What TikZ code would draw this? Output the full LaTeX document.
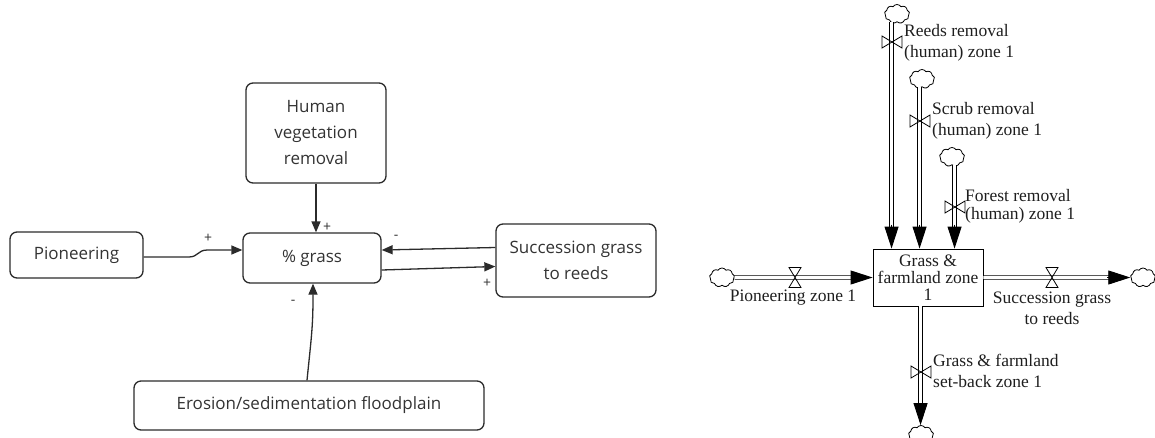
\documentclass[tikz,border=0pt]{standalone}
\usepackage{fontspec}
\setmainfont{Liberation Serif}
\newfontfamily\loopfont{Open Sans}
\usetikzlibrary{positioning,calc,arrows.meta,shapes.symbols}
\definecolor{loopline}{HTML}{2b2b2b}
\definecolor{looptext}{HTML}{333333}
\definecolor{flowtext}{HTML}{1e1e1e}
\tikzset{
  loopbox/.style={draw=loopline, line width=1.3pt, rounded corners=7pt, align=center, inner sep=0pt, text=looptext, font=\loopfont\fontsize{17}{26}\selectfont},
  link/.style={draw=loopline, line width=1.3pt, -{Triangle[length=11pt,width=9pt]}},
  polarity/.style={text=looptext, font=\loopfont\fontsize{14}{14}\selectfont, inner sep=0pt},
  stockbox/.style={draw, line width=0.9pt, minimum width=110pt, minimum height=57pt, inner sep=0pt, align=center, text=flowtext, font=\fontsize{17.5}{17}\selectfont},
  pipe/.style={double, line width=0.9pt, double distance=2.6pt},
  flowhead/.style={line width=0.9pt, -{Triangle[length=22pt,width=14pt]}},
  sink/.style={cloud, draw, cloud puffs=9, cloud puff arc=115, aspect=1.3, minimum width=25pt, minimum height=19pt, inner sep=0pt, line width=0.8pt},
  flowlabel/.style={align=left, inner sep=0pt, text=flowtext, font=\fontsize{17.5}{21}\selectfont},
  hvalve/.pic={\draw[line width=0.8pt] (-6,-10) -- (6,-10) -- (-6,10) -- (6,10) -- cycle;},
  vvalve/.pic={\draw[line width=0.8pt] (-10,-6) -- (-10,6) -- (10,-6) -- (10,6) -- cycle;}
}

\begin{document}
\begin{tikzpicture}[x=1pt,y=-1pt]
	\useasboundingbox (0,0) rectangle (1155,437);
	%% causal loop side: the variables as rounded boxes
	\node[loopbox, minimum width=133pt, minimum height=46pt] (pion) at (76.5,255) {Pioneering};
	\node[loopbox, minimum width=138pt, minimum height=50pt] (grass) at (312,258) {\% grass};
	\node[loopbox, minimum width=140pt, minimum height=100pt] (human) at (316,133) {Human\\vegetation\\removal};
	\node[loopbox, minimum width=160pt, minimum height=73pt] (succ) at (576,260.5) {Succession grass\\to reeds};
	\node[loopbox, minimum width=350pt, minimum height=49pt] (eros) at (309,405.5) {Erosion/sedimentation floodplain};
	%% the links, with a little kink on the pioneering one
	\draw[link] ($(pion.east)+(0,2)$) -- ++(45,0) .. controls +(10,0) and +(-10,0) .. ($(grass.west)+(-35,-8)$) -- ($(grass.west)+(0,-8)$);
	\draw[link] (human.south) -- (human.south |- grass.north);
	\draw[link] ($(succ.west)+(0,-13)$) -- ($(grass.east)+(0,-8)$);
	\draw[link] ($(grass.east)+(0,12)$) -- ($(succ.west)+(0,6)$);
	\draw[link] ($(eros.north)+(-2,0)$) .. controls +(4,-40) and +(0,30) .. ($(grass.south)+(1,14)$) -- ($(grass.south)+(1,0)$);
	%% signs of the links
	\node[polarity] (p1) at (208,238) {+};
	\node[polarity] (p2) at (327,227) {+};
	\node[polarity] (p3) at (396,237) {-};
	\node[polarity] (p4) at (487,283) {+};
	\node[polarity] (p5) at (293,302) {-};

	%% stock and flow side: the stock with its clouds
	\node[stockbox] (stock) at (928,277.5) {Grass \&\\farmland zone\\1};
	\node[sink] (cpion) at (722,277.5) {};
	\node[sink] (csucc) at (1143,277.5) {};
	\node[sink] (creeds) at (897,14) {};
	\node[sink] (cscrub) at (922,79) {};
	\node[sink] (cforest) at (952,157) {};
	\node[sink] (cback) at (921,435) {};
	\coordinate (inreeds) at ($(stock.north west)+(19,0)$);
	\coordinate (inscrub) at ($(stock.north west)+(47,0)$);
	\coordinate (inforest) at ($(stock.north west)+(82,0)$);
	\coordinate (outback) at ($(stock.south west)+(48,0)$);
	%% pipes, the arrowheads are drawn on their own so the double line stays clean
	\draw[pipe] (cpion.east) -- ($(stock.west)+(-20,0)$);
	\draw[flowhead] ($(stock.west)+(-22,0)$) -- (stock.west);
	\draw[pipe] (stock.east) -- ($(csucc.west)+(-20,0)$);
	\draw[flowhead] ($(csucc.west)+(-23,0)$) -- (csucc.west);
	\draw[pipe] (creeds.south -| inreeds) -- ($(inreeds)+(0,-20)$);
	\draw[flowhead] ($(inreeds)+(0,-24)$) -- (inreeds);
	\draw[pipe] (cscrub.south -| inscrub) -- ($(inscrub)+(0,-20)$);
	\draw[flowhead] ($(inscrub)+(0,-24)$) -- (inscrub);
	\draw[pipe] (cforest.south -| inforest) -- ($(inforest)+(0,-20)$);
	\draw[flowhead] ($(inforest)+(0,-24)$) -- (inforest);
	\draw[pipe] (outback) -- ($(outback)+(0,99)$);
	\draw[flowhead] ($(outback)+(0,97)$) -- (cback.north -| outback);
	%% valves
	\pic at (795,277.5) {hvalve};
	\pic at (1052,277.5) {hvalve};
	\pic at (892,42) {vvalve};
	\pic at (920,121) {vvalve};
	\pic at (955,207) {vvalve};
	\pic at (921,372) {vvalve};
	%% flow names
	\node[flowlabel, anchor=west] (lreeds) at (904,43) {Reeds removal\\(human) zone 1};
	\node[flowlabel, anchor=west] (lscrub) at (932,121) {Scrub removal\\(human) zone 1};
	\node[flowlabel, anchor=west, font=\fontsize{17.5}{18}\selectfont] (lforest) at (965,206) {Forest removal\\(human) zone 1};
	\node[flowlabel, anchor=west] (lback) at (933,371) {Grass \& farmland\\set-back zone 1};
	\node[flowlabel, align=center] (lpion) at (793,298) {Pioneering zone 1};
	\node[flowlabel, align=center] (lsucc) at (1052,308.5) {Succession grass\\to reeds};
\end{tikzpicture}
\end{document}
